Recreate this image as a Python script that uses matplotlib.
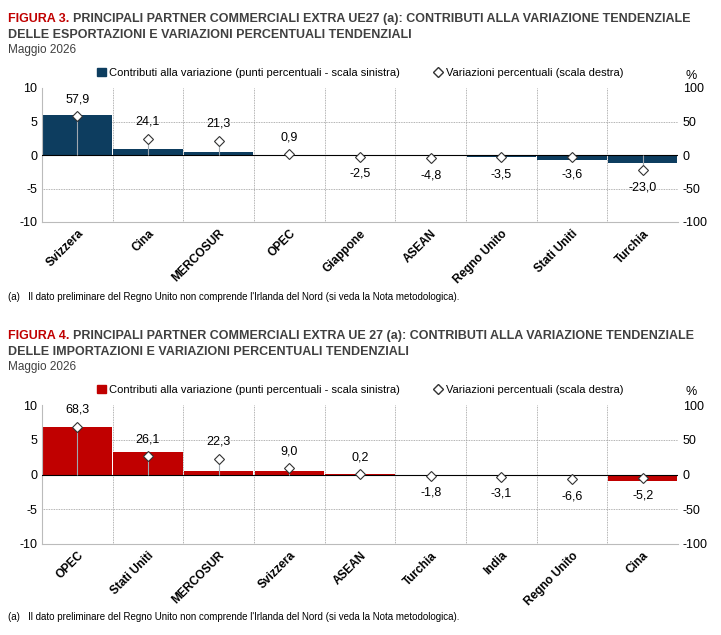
import matplotlib.pyplot as plt
from matplotlib.lines import Line2D
from matplotlib.patches import Patch

plt.rcParams['font.family'] = ['Liberation Sans', 'DejaVu Sans']
plt.rcParams['axes.unicode_minus'] = False

cat1 = ['Svizzera', 'Cina', 'MERCOSUR', 'OPEC', 'Giappone', 'ASEAN', 'Regno Unito', 'Stati Uniti', 'Turchia']
bar1 = [6.0, 0.9, 0.4, 0.05, -0.05, -0.1, -0.3, -0.7, -1.2]
pct1 = [57.9, 24.1, 21.3, 0.9, -2.5, -4.8, -3.5, -3.6, -23.0]

cat2 = ['OPEC', 'Stati Uniti', 'MERCOSUR', 'Svizzera', 'ASEAN', 'Turchia', 'India', 'Regno Unito', 'Cina']
bar2 = [6.9, 3.2, 0.5, 0.5, 0.02, -0.05, -0.05, -0.15, -1.0]
pct2 = [68.3, 26.1, 22.3, 9.0, 0.2, -1.8, -3.1, -6.6, -5.2]

W, H = 721, 635
fig = plt.figure(figsize=(W/100, H/100), dpi=100)

def fmt(v):
    return f"{v:.1f}".replace('.', ',')

def panel(top, bottom, cats, bars, pcts, color, title1, title2, num, note_y):
    ax = fig.add_axes([42/W, 1-bottom/H, (678-42)/W, (bottom-top)/H])
    x = range(len(cats))
    ax.bar(x, bars, width=0.98, color=color, zorder=2)
    ax.set_xlim(-0.5, len(cats)-0.5)
    ax.set_ylim(-10, 10)
    ax.set_yticks([-10, -5, 0, 5, 10])
    ax.axhline(0, color='black', lw=0.8, zorder=3)
    for y in [-5, 5]:
        ax.axhline(y, color='#999999', lw=0.6, ls=(0, (1, 1)), zorder=1)
    for i in range(1, len(cats)):
        ax.axvline(i-0.5, color='#999999', lw=0.6, ls=(0, (1, 1)), zorder=1)
    ax.set_xticks(list(x))
    ax.set_xticklabels(cats, rotation=45, ha='right', rotation_mode='anchor', fontweight='bold', fontsize=8.5)
    ax.tick_params(axis='x', length=0, pad=4)
    ax.tick_params(axis='y', length=0, labelsize=9)
    for s in ['top', 'right']:
        ax.spines[s].set_visible(False)
    ax.spines['left'].set_color('#bbbbbb')
    ax.spines['bottom'].set_color('#bbbbbb')
    ax2 = ax.twinx()
    ax2.set_ylim(-100, 100)
    ax2.set_yticks([-100, -50, 0, 50, 100])
    ax2.tick_params(axis='y', length=0, labelsize=9)
    for s in ['top', 'right', 'left', 'bottom']:
        ax2.spines[s].set_visible(False)
    ax2.vlines(list(x), 0, pcts, color='#a0a8b0', lw=0.8, zorder=3)
    ax2.plot(list(x), pcts, ls='none', marker='D', ms=5, mfc='white', mec='#333333', mew=0.8, zorder=4)
    for i, v in enumerate(pcts):
        off = 8 if v >= 0 else -8
        ax2.annotate(fmt(v), (i, v), xytext=(0, off), textcoords='offset points',
                     ha='center', va='bottom' if v >= 0 else 'top', fontsize=9)
    ax2.text(1.02, 1.07, '%', transform=ax2.transAxes, ha='center', fontsize=9)
    handles = [Patch(color=color), Line2D([], [], ls='none', marker='D', ms=5, mfc='white', mec='#333333')]
    ax.legend(handles, ['Contributi alla variazione (punti percentuali - scala sinistra)', 'Variazioni percentuali (scala destra)'],
              ncol=2, loc='lower center', bbox_to_anchor=(0.5, 1.0), frameon=False, fontsize=8,
              handlelength=0.8, handletextpad=0.3, columnspacing=3)
    ty = 1 - (top-75)/H
    fig.text(8/W, ty, f'FIGURA {num}.', color='#c00000', fontweight='bold', fontsize=9, va='top')
    fig.text(73/W, ty, title1, color='#404040', fontweight='bold', fontsize=9, va='top')
    fig.text(8/W, ty-16/H, title2, color='#404040', fontweight='bold', fontsize=9, va='top')
    fig.text(8/W, ty-31/H, 'Maggio 2026', color='#404040', fontsize=8.5, va='top')
    fig.text(8/W, 1-note_y/H, "(a)   Il dato preliminare del Regno Unito non comprende l'Irlanda del Nord (si veda la Nota metodologica).", fontsize=7, va='center')

panel(88, 222, cat1, bar1, pct1, '#0d3d5f',
      'PRINCIPALI PARTNER COMMERCIALI EXTRA UE27 (a): CONTRIBUTI ALLA VARIAZIONE TENDENZIALE',
      'DELLE ESPORTAZIONI E VARIAZIONI PERCENTUALI TENDENZIALI', 3, 297)
panel(405, 544, cat2, bar2, pct2, '#c00000',
      'PRINCIPALI PARTNER COMMERCIALI EXTRA UE 27 (a): CONTRIBUTI ALLA VARIAZIONE TENDENZIALE',
      'DELLE IMPORTAZIONI E VARIAZIONI PERCENTUALI TENDENZIALI', 4, 617)

fig.savefig('out.png', dpi=100)
